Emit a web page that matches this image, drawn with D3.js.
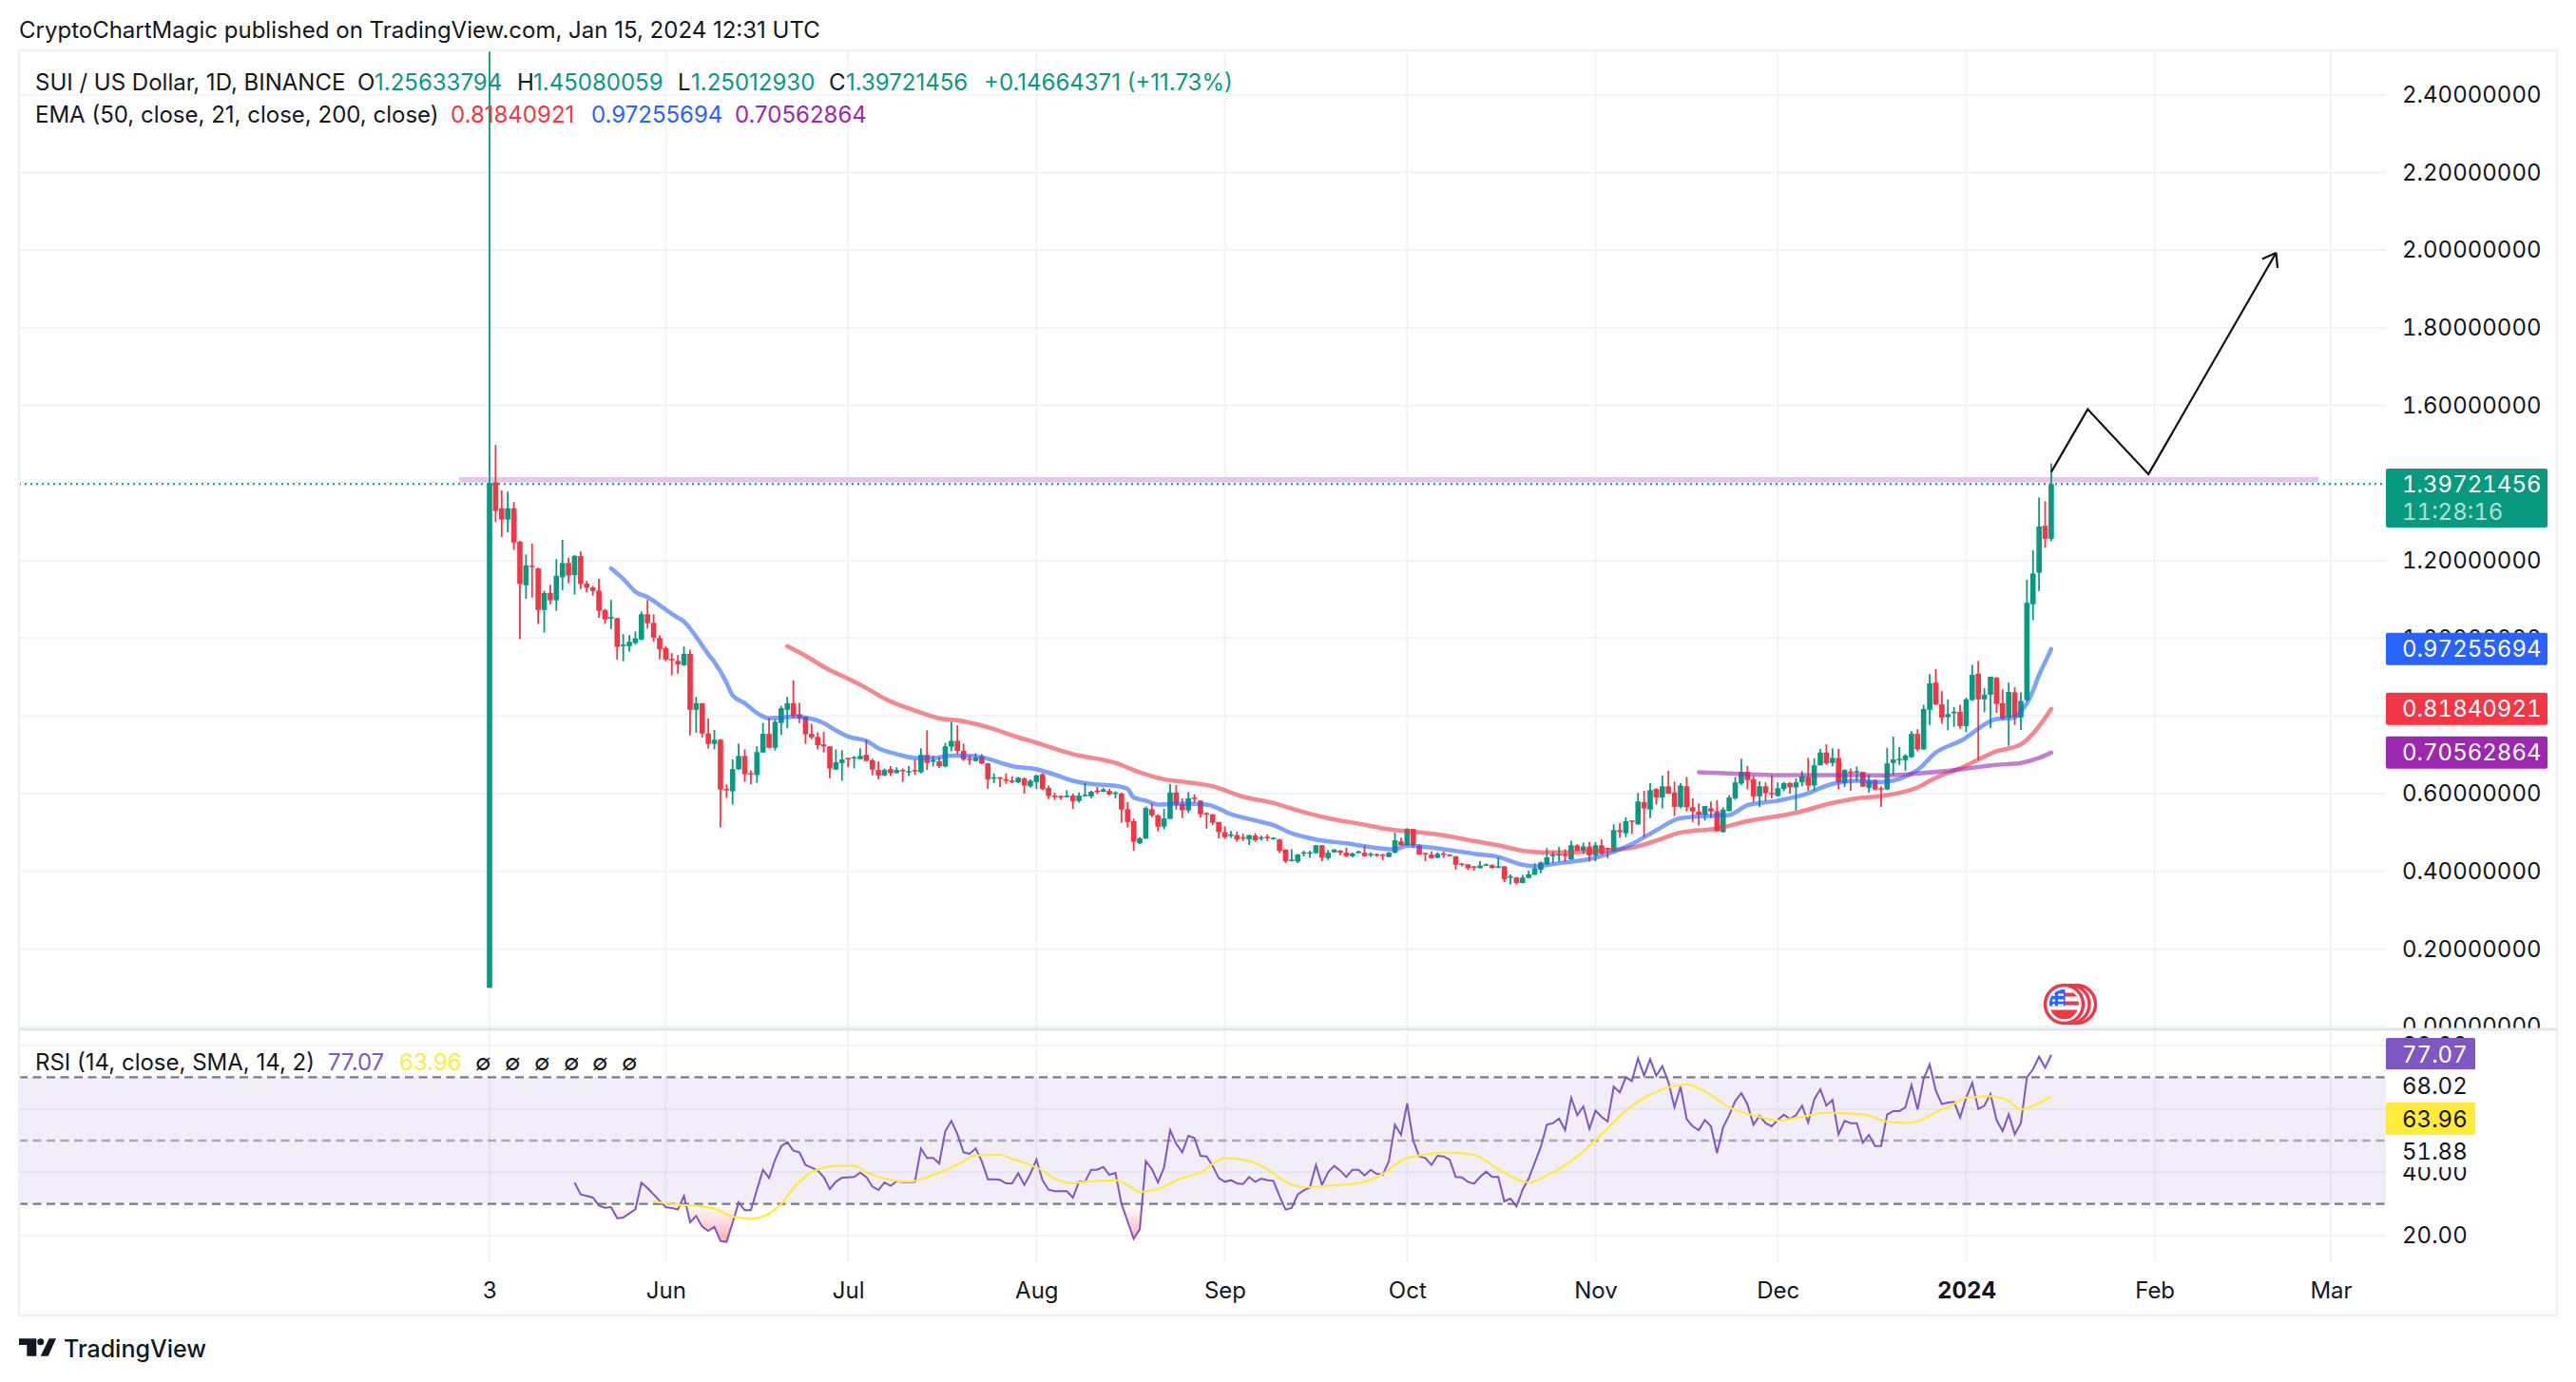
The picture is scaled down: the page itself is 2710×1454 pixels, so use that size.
<!DOCTYPE html>
<html>
<head>
<meta charset="utf-8">
<title>SUI / US Dollar</title>
<script src="https://cdn.jsdelivr.net/npm/d3@7/dist/d3.min.js"></script>
<style>
html, body { margin: 0; padding: 0; background: #fff; }
svg { display: block; font-family: Inter, "Noto Sans", sans-serif; }
.axis text { fill: #131722; font-size: 24px; font-family: Inter, "Noto Sans", sans-serif; font-variant-numeric: tabular-nums; }
.tag { font-variant-numeric: tabular-nums; }
</style>
</head>
<body>
<svg id="chart" width="2710" height="1454"></svg>
<script>
'use strict'
// daily candles, first one is 3 May 2023
const firstDay = new Date(Date.UTC(2023, 4, 3));

const opens = [0.10,
1.402,1.335,1.306,1.335,1.249,1.137,1.187,1.180,1.073,
1.117,1.098,1.157,1.194,1.163,1.212,1.141,1.131,1.123,1.073,
1.051,1.052,.980,.980,.988,.997,1.062,1.040,1.001,.975,
.947,.942,.931,.960,.816,.833,.755,.728,.739,.612,
.606,.663,.697,.653,.648,.706,.754,.718,.782,.816,
.833,.805,.798,.754,.746,.727,.722,.662,.679,.692,
.691,.689,.700,.686,.661,.647,.663,.653,.661,.656,
.661,.655,.700,.683,.683,.670,.721,.736,.710,.690,
.684,.696,.678,.639,.642,.637,.634,.629,.639,.619,
.630,.650,.615,.595,.594,.591,.595,.581,.594,.593,
.608,.605,.607,.600,.600,.560,.529,.472,.484,.560,
.544,.515,.535,.603,.573,.557,.590,.582,.550,.547,
.527,.501,.492,.493,.488,.482,.492,.484,.489,.483,
.482,.456,.427,.425,.446,.447,.447,.467,.434,.449,
.453,.448,.439,.447,.448,.443,.444,.443,.437,.448,
.477,.467,.509,.467,.447,.443,.435,.446,.443,.439,
.420,.418,.413,.408,.416,.416,.411,.413,.385,.384,
.370,.383,.391,.404,.418,.439,.441,.444,.431,.467,
.453,.464,.441,.467,.460,.453,.506,.498,.531,.521,
.578,.559,.612,.590,.619,.603,.566,.619,.565,.554,
.546,.562,.555,.501,.555,.588,.626,.656,.637,.593,
.619,.602,.594,.612,.627,.616,.629,.643,.621,.673,
.706,.679,.692,.627,.657,.655,.656,.615,.634,.614,
.611,.679,.688,.686,.694,.754,.714,.816,.886,.830,
.797,.807,.811,.774,.841,.909,.843,.855,.899,.833,
.796,.861,.796,.841,1.088,1.169,1.290,1.25633794];

const highs = [2.60,
1.498,1.381,1.378,1.351,1.251,1.216,1.244,1.182,1.123,
1.138,1.204,1.254,1.208,1.215,1.224,1.148,1.135,1.153,1.076,
1.099,1.053,1.011,1.008,1.018,1.069,1.099,1.062,1.008,.980,
.962,.957,.979,.971,.849,.833,.794,.764,.741,.624,
.688,.729,.714,.660,.722,.782,.795,.792,.826,.849,
.892,.834,.798,.780,.758,.759,.722,.714,.712,.692,
.697,.717,.739,.690,.683,.665,.671,.668,.665,.671,
.688,.717,.763,.698,.694,.731,.785,.776,.729,.699,
.704,.702,.679,.652,.643,.652,.645,.643,.642,.637,
.649,.653,.621,.603,.595,.609,.600,.603,.627,.608,
.617,.615,.612,.606,.603,.578,.536,.488,.567,.575,
.547,.561,.625,.622,.588,.604,.598,.583,.552,.547,
.527,.516,.504,.502,.497,.494,.498,.492,.495,.488,
.484,.456,.457,.445,.453,.453,.467,.467,.455,.457,
.455,.461,.448,.453,.466,.449,.446,.445,.450,.500,
.487,.511,.509,.469,.448,.452,.449,.451,.444,.439,
.421,.418,.413,.426,.420,.418,.436,.413,.392,.386,
.391,.402,.421,.425,.460,.451,.463,.457,.479,.470,
.474,.476,.475,.482,.461,.521,.524,.539,.531,.602,
.607,.627,.614,.647,.659,.631,.627,.643,.588,.575,
.568,.580,.583,.565,.596,.643,.690,.671,.645,.632,
.629,.648,.629,.630,.630,.639,.658,.692,.691,.715,
.727,.717,.715,.663,.665,.670,.656,.649,.637,.619,
.718,.747,.720,.702,.761,.766,.829,.908,.921,.864,
.843,.823,.829,.847,.932,.942,.872,.901,.900,.869,
.886,.874,.861,1.151,1.227,1.363,1.353,1.45080059];

const lows = [0.10,
1.299,1.261,1.273,1.228,.998,1.102,1.105,1.037,1.015,
1.088,1.071,1.124,1.142,1.113,1.127,1.118,1.110,1.053,1.037,
1.024,.945,.941,.966,.984,.995,1.025,.991,.946,.941,
.905,.909,.929,.750,.757,.745,.716,.714,.513,.589,
.572,.661,.630,.624,.628,.706,.717,.711,.751,.769,
.794,.782,.728,.740,.714,.706,.640,.661,.633,.668,
.665,.689,.684,.647,.637,.645,.645,.652,.630,.645,
.648,.652,.661,.670,.666,.668,.709,.702,.684,.674,
.683,.676,.612,.627,.617,.625,.627,.627,.600,.615,
.612,.610,.586,.584,.584,.591,.561,.577,.592,.588,
.599,.604,.596,.588,.525,.513,.453,.470,.484,.539,
.503,.508,.535,.559,.537,.550,.577,.539,.510,.519,
.485,.484,.486,.476,.478,.468,.476,.479,.478,.482,
.447,.421,.425,.421,.438,.435,.446,.426,.429,.448,
.441,.437,.436,.446,.438,.437,.437,.429,.436,.446,
.466,.466,.461,.443,.426,.433,.434,.435,.438,.404,
.413,.404,.402,.407,.415,.407,.408,.372,.366,.366,
.369,.382,.391,.395,.417,.421,.425,.425,.429,.453,
.445,.425,.426,.443,.434,.449,.486,.488,.496,.520,
.488,.537,.572,.562,.600,.542,.562,.555,.527,.518,
.531,.537,.503,.500,.554,.584,.622,.611,.578,.566,
.581,.588,.592,.606,.600,.557,.619,.608,.608,.673,
.674,.670,.611,.617,.608,.632,.617,.603,.609,.566,
.609,.648,.674,.659,.692,.709,.713,.777,.828,.780,
.763,.772,.767,.758,.839,.686,.810,.769,.808,.790,
.723,.777,.764,.837,1.047,1.122,1.233,1.25012930];

const closes = [1.40,
1.328,1.306,1.335,1.247,1.140,1.188,1.184,1.073,1.117,
1.098,1.161,1.194,1.162,1.212,1.140,1.130,1.122,1.071,1.049,
1.055,.978,.984,.991,1.000,1.062,1.039,1.002,.972,.945,
.944,.933,.960,.816,.833,.755,.728,.739,.611,.609,
.663,.697,.650,.650,.707,.754,.718,.785,.820,.833,
.800,.795,.753,.745,.725,.722,.665,.681,.688,.690,
.694,.697,.684,.662,.647,.661,.653,.661,.658,.658,
.658,.700,.679,.686,.671,.722,.736,.710,.688,.688,
.692,.678,.637,.642,.639,.634,.630,.641,.621,.633,
.647,.612,.594,.591,.590,.595,.581,.595,.597,.605,
.604,.611,.598,.603,.559,.527,.476,.485,.563,.544,
.515,.536,.603,.572,.557,.588,.586,.547,.548,.525,
.501,.488,.495,.482,.485,.493,.480,.488,.487,.486,
.453,.426,.430,.443,.449,.449,.467,.435,.448,.456,
.448,.439,.446,.451,.439,.445,.442,.440,.448,.480,
.467,.509,.467,.443,.444,.434,.445,.443,.442,.417,
.417,.408,.411,.415,.418,.409,.413,.380,.387,.370,
.384,.392,.407,.423,.436,.443,.444,.439,.467,.453,
.464,.441,.467,.445,.457,.506,.501,.529,.528,.580,
.562,.609,.590,.619,.600,.566,.621,.565,.554,.546,
.568,.554,.503,.559,.590,.629,.656,.635,.593,.619,
.601,.599,.614,.627,.616,.629,.645,.621,.673,.706,
.678,.692,.629,.661,.656,.658,.618,.633,.611,.612,
.678,.688,.690,.698,.754,.714,.818,.884,.830,.796,
.805,.811,.774,.843,.906,.843,.855,.901,.831,.794,
.862,.798,.839,1.0915,1.167,1.288,1.25633794,1.39721456];

const ema21Days = [20,22,24,26,29,31,32,34,36,37,39,40,42,44,46,48,50,52,55,57,59,62,64,67,70,73,76,78,81,84,86,90,93,96,99,103,105,106,108,110,114,118,122,126,129,132,136,141,146,149,151,157,162,166,170,172,176,182,184,188,192,196,201,204,207,212,216,221,225,229,235,238,242,248,251,252,253,254,255,256,257];
const ema21Values = [1.180,1.153,1.120,1.106,1.074,1.053,1.043,1.004,.959,.939,.886,.853,.833,.808,.794,.796,.798,.796,.782,.763,.747,.736,.717,.702,.692,.692,.698,.698,.694,.680,.671,.663,.649,.633,.625,.620,.612,.590,.582,.572,.574,.572,.547,.531,.519,.498,.482,.472,.460,.457,.466,.457,.445,.437,.417,.413,.421,.435,.445,.470,.506,.537,.543,.545,.570,.582,.596,.625,.633,.630,.661,.706,.735,.792,.796,.812,.833,.865,.906,.939,.97255694];

const ema50Days = [49,52,56,59,62,65,70,74,77,82,87,90,96,103,107,111,115,119,124,129,133,138,144,148,152,158,162,166,170,173,177,182,188,192,196,202,207,215,221,225,229,235,238,242,248,252,254,257];
const ema50Values = [.980,.955,.918,.896,.872,.845,.814,.794,.789,.771,.745,.731,.702,.679,.655,.637,.629,.619,.592,.576,.557,.537,.520,.508,.502,.490,.478,.467,.453,.449,.449,.452,.461,.479,.500,.510,.529,.551,.576,.588,.594,.616,.641,.665,.709,.727,.755,.81840921];

const ema200Days = [199,206,212,221,229,235,240,248,252,255,257];
const ema200Values = [.655,.651,.648,.648,.647,.652,.659,.674,.679,.692,.70562864];

// RSI(14), one value per bar from day 14 on
const rsiFirstDay = 14;
const rsiValues = [36.7,33,32.5,32,29.5,28.8,29,25.5,25.7,27,28.3,36.7,35,33,31,29,28.7,28.3,32.5,24.2,26.2,22.8,21.5,22.8,18.3,18,24,30.5,28,28,34.5,40.7,38.2,44,48.2,49.5,46.8,46.3,42.3,41.5,40.5,38.5,34.7,37,38.3,38.4,38.5,39.9,38.5,35.5,34.4,36.8,35.7,37.2,36.9,36.8,37,47.5,44.5,44.5,42.8,53,56.2,
52,46.3,45.8,47.5,43.5,37.8,37.8,37.6,36.5,36.5,39.7,36,39.5,44,37.5,34.5,34,34,34,32,37,37,40.8,40.8,41.7,39.2,39.8,30,24.5,19,22,43.5,41,36.8,41.5,53.3,49,46.3,51.5,50.8,45.2,45,42,38.2,37,37.5,36.5,36.3,38.5,37,38,37.5,37.3,32.5,28.2,28.7,33,34.3,35.2,42.3,36,40,42,40.5,38.5,40.8,40.8,39,40.8,39.5,39.2,43.5,55,51.8,61.7,50,45,44.5,42.3,45.2,45,44,38.5,38.4,37,36.4,38.5,40.2,38.5,38.5,30.8,31.7,29.2,34.5,38,43,48,55,55.5,57,53.3,63.5,58,60.8,53.7,59.5,57.5,56,67,65.2,70,68.8,76,70.5,75.7,70.5,73.5,68.5,60.5,67,56.8,54.5,53.3,56.5,54.5,46,54.2,58,62.5,65,61.5,55,57.8,55.5,54.5,56.5,58.2,56.8,58,61,
55.7,63,66.2,61,62.8,52,56.2,55.5,55.5,49.3,51.8,48.3,48.3,58.2,59.3,59.3,60.5,67.5,59.8,69.5,74,65.8,61.5,62,62.2,57.3,63.5,68.2,60,61,64.7,56.5,53,58.3,52,55.5,70,72.5,76.5,73,77.07];

const rsiMaDays = [27,31,34,37,40,43,46,48,50,53,57,60,62,65,69,72,76,78,80,84,86,88,91,93,96,98,103,105,107,111,113,117,121,125,128,131,134,138,144,147,151,158,162,166,171,174,179,183,187,191,197,200,204,209,212,216,220,226,230,233,235,238,240,243,247,250,252,254,257];
const rsiMaValues = [30.8,29.7,29.4,28.5,26,25.4,27,30,35,40,42,42,40,38,37,38.5,41.5,43.5,45.3,45.5,44.2,43,40.5,38,36.6,37,37.5,36,33.8,35.5,37.5,40,44.5,43.5,41,37,35.3,35.7,37,39.5,44.5,46.2,45.5,41,36.8,39,45,52,59.5,64.5,67.7,65.5,60.5,57.5,56.3,57.5,58.8,58.3,56,55.6,56,59,60.5,63.5,64,62.5,59.8,61,63.96];

// ticks, 1.4 and 60 have grid lines but their labels are hidden behind the value tags
const priceTicks = [0,.2,.4,.6,.8,1,1.2,1.4,1.6,1.8,2,2.2,2.4];
const priceLabelTicks = [0,.2,.4,.6,.8,1,1.2,1.6,1.8,2,2.2,2.4];
const rsiTicks = [20,40,60,80];
const rsiLabelTicks = [20,40,80];
const timeTickDates = ["2023-05-03","2023-06-01","2023-07-01","2023-08-01","2023-09-01","2023-10-01","2023-11-01","2023-12-01","2024-01-01","2024-02-01","2024-03-01"];
const timeTickLabels = ["3","Jun","Jul","Aug","Sep","Oct","Nov","Dec","2024","Feb","Mar"];

// the drawing on top: resistance band and projected path
const bandDays = [-5, 301];
const bandPrices = [1.4015, 1.4154];
const pathDays = [257, 263, 273, 294];
const pathPrices = [1.4284, 1.590, 1.4228, 1.993];

const lastPrice = 1.39721456, lastEma21 = 0.97255694, lastEma50 = 0.81840921, lastEma200 = 0.70562864;

const colGreen = "#089981", colRed = "#f23645", colBlue = "#2962ff", colPurple = "#9c27b0";
const colRsi = "#7e57c2", colMa = "#ffeb3b", colText = "#131722", colGrid = "#f2f3f5";

// layout
const frameLeft = 20, frameRight = 2690, frameTop = 53, paneRight = 2510, mainBottom = 1083, rsiBottom = 1328, frameBottom = 1384;
const barWidth = 5.6, fontSize = 24;

const dayDate = d => d3.utcDay.offset(firstDay, d);
const x = d3.scaleUtc()
    .domain([firstDay, new Date(Date.UTC(2024, 2, 1))])
    .range([515, 2452]);
const y = d3.scaleLinear().domain([0, 2.4]).range([1080.1, 99.7]);
const yRsi = d3.scaleLinear().domain([20, 80]).range([1300, 1100]);

const svg = d3.select("#chart");
const defs = svg.append("defs");
defs.append("clipPath").attr("id", "mainClip").append("rect")
    .attr("x", frameLeft).attr("y", frameTop).attr("width", paneRight - frameLeft).attr("height", mainBottom - frameTop);
defs.append("clipPath").attr("id", "below30").append("rect")
    .attr("x", frameLeft).attr("y", yRsi(30)).attr("width", paneRight - frameLeft).attr("height", rsiBottom - yRsi(30));
defs.append("clipPath").attr("id", "above70").append("rect")
    .attr("x", frameLeft).attr("y", mainBottom).attr("width", paneRight - frameLeft).attr("height", yRsi(70) - mainBottom);
let gradLow = defs.append("linearGradient").attr("id", "gradLow")
    .attr("gradientUnits", "userSpaceOnUse").attr("x1", 0).attr("x2", 0).attr("y1", yRsi(30)).attr("y2", yRsi(18));
gradLow.append("stop").attr("offset", 0).attr("stop-color", colRed).attr("stop-opacity", 0);
gradLow.append("stop").attr("offset", 1).attr("stop-color", colRed).attr("stop-opacity", .4);
let gradHigh = defs.append("linearGradient").attr("id", "gradHigh")
    .attr("gradientUnits", "userSpaceOnUse").attr("x1", 0).attr("x2", 0).attr("y1", yRsi(70)).attr("y2", yRsi(80));
gradHigh.append("stop").attr("offset", 0).attr("stop-color", colGreen).attr("stop-opacity", 0);
gradHigh.append("stop").attr("offset", 1).attr("stop-color", colGreen).attr("stop-opacity", .2);

// header above the frame
svg.append("text").attr("x", 20).attr("y", 40).attr("font-size", fontSize).attr("fill", colText)
    .text("CryptoChartMagic published on TradingView.com, Jan 15, 2024 12:31 UTC");

// grid lines
let grid = svg.append("g");
grid.selectAll(".vgrid").data(timeTickDates).enter().append("line")
    .attr("x1", d => x(new Date(d))).attr("x2", d => x(new Date(d)))
    .attr("y1", frameTop).attr("y2", rsiBottom)
    .attr("stroke", colGrid).attr("stroke-width", 2);
grid.selectAll(".hgrid").data(priceTicks).enter().append("line")
    .attr("x1", frameLeft).attr("x2", paneRight)
    .attr("y1", d => y(d)).attr("y2", d => y(d))
    .attr("stroke", colGrid).attr("stroke-width", 2);
grid.selectAll(".rgrid").data(rsiTicks).enter().append("line")
    .attr("x1", frameLeft).attr("x2", paneRight)
    .attr("y1", d => yRsi(d)).attr("y2", d => yRsi(d))
    .attr("stroke", colGrid).attr("stroke-width", 2);

// main pane
let main = svg.append("g").attr("clip-path", "url(#mainClip)");

main.append("rect")
    .attr("x", x(dayDate(bandDays[0])))
    .attr("y", y(bandPrices[1]))
    .attr("width", x(dayDate(bandDays[1])) - x(dayDate(bandDays[0])))
    .attr("height", y(bandPrices[0]) - y(bandPrices[1]))
    .attr("fill", "#e4c8ec");

main.append("line")
    .attr("x1", frameLeft).attr("x2", paneRight)
    .attr("y1", y(lastPrice)).attr("y2", y(lastPrice))
    .attr("stroke", colGreen).attr("stroke-width", 2).attr("stroke-dasharray", "2 4");

const candles = opens.map((o, i) => ({ day: i, o: o, h: highs[i], l: lows[i], c: closes[i] }));
const candleColor = d => d.c >= d.o ? colGreen : colRed;

let bars = main.append("g").selectAll("g").data(candles).enter().append("g");
bars.append("line")
    .attr("x1", d => x(dayDate(d.day))).attr("x2", d => x(dayDate(d.day)))
    .attr("y1", d => y(d.h)).attr("y2", d => y(d.l))
    .attr("stroke", candleColor).attr("stroke-width", 1.8);
bars.append("rect")
    .attr("x", d => x(dayDate(d.day)) - barWidth / 2)
    .attr("y", d => y(Math.max(d.o, d.c)))
    .attr("width", barWidth)
    .attr("height", d => Math.max(1.5, Math.abs(y(d.o) - y(d.c))))
    .attr("fill", candleColor);

function drawEma(days, values, color) {
    let line = d3.line()
        .x((d, i) => x(dayDate(days[i])))
        .y(d => y(d))
        .curve(d3.curveMonotoneX);
    main.append("path").datum(values)
        .attr("d", line)
        .attr("fill", "none")
        .attr("stroke", color)
        .attr("stroke-width", 4.5)
        .attr("stroke-linecap", "round")
        .attr("stroke-opacity", .6);
}
drawEma(ema50Days, ema50Values, colRed);
drawEma(ema21Days, ema21Values, colBlue);
drawEma(ema200Days, ema200Values, colPurple);

// projected path with open arrow head
let pathLine = d3.line()
    .x((d, i) => x(dayDate(pathDays[i])))
    .y(d => y(d));
main.append("path").datum(pathPrices)
    .attr("d", pathLine)
    .attr("fill", "none").attr("stroke", "#111").attr("stroke-width", 2.2).attr("stroke-linejoin", "miter");
const tipX = x(dayDate(pathDays[3])), tipY = y(pathPrices[3]);
const tipAngle = Math.atan2(y(pathPrices[2]) - tipY, x(dayDate(pathDays[2])) - tipX);
[-0.62, 0.62].forEach(a => {
    main.append("line")
        .attr("x1", tipX).attr("y1", tipY)
        .attr("x2", tipX + 16 * Math.cos(tipAngle + a))
        .attr("y2", tipY + 16 * Math.sin(tipAngle + a))
        .attr("stroke", "#111").attr("stroke-width", 2.2);
});

// the economic events badge at the bottom of the pane
let badge = svg.append("g").attr("transform", "translate(2171.5,1056.5)");
[13, 6.5, 0].forEach(dx => {
    badge.append("circle").attr("cx", dx).attr("cy", 0).attr("r", 20)
        .attr("fill", "#fff").attr("stroke", colRed).attr("stroke-width", 3.4);
});
defs.append("clipPath").attr("id", "flagClip").append("circle").attr("r", 15.5);
let flag = badge.append("g").attr("clip-path", "url(#flagClip)");
flag.append("rect").attr("x", -16).attr("y", -16).attr("width", 32).attr("height", 32).attr("fill", "#fff");
[-12, -3, 6, 12].forEach(sy => {
    flag.append("rect").attr("x", -16).attr("y", sy).attr("width", 32).attr("height", sy === 12 ? 5 : (sy === 6 ? 10 : 4)).attr("fill", colRed);
});
flag.append("rect").attr("x", -16).attr("y", -16).attr("width", 17).attr("height", 18).attr("fill", colBlue);
[-11, -5, 0].forEach(sy => {
    [-11, -5, -2].forEach(sx => {
        flag.append("circle").attr("cx", sx).attr("cy", sy + 1).attr("r", 1.5).attr("fill", "#fff");
    });
});

// right price axis, labels sit under the value tags
let priceAxis = svg.append("g").attr("class", "axis")
    .attr("transform", `translate(${paneRight + 17},0)`)
    .call(d3.axisRight(y).tickValues(priceLabelTicks).tickFormat(d3.format(".8f")).tickSize(0).tickPadding(0));
priceAxis.select(".domain").remove();

// RSI pane, it covers the foot of the lowest price label
svg.append("rect").attr("x", paneRight).attr("y", mainBottom).attr("width", frameRight - paneRight).attr("height", rsiBottom - mainBottom).attr("fill", "#fff");

let rsi = svg.append("g");
rsi.append("rect")
    .attr("x", frameLeft).attr("y", yRsi(70))
    .attr("width", paneRight - frameLeft).attr("height", yRsi(30) - yRsi(70))
    .attr("fill", colRsi).attr("fill-opacity", .1);
[[70, "#787b86", 1], [50, "#787b86", .6], [30, "#787b86", 1]].forEach(l => {
    rsi.append("line")
        .attr("x1", frameLeft).attr("x2", paneRight)
        .attr("y1", yRsi(l[0])).attr("y2", yRsi(l[0]))
        .attr("stroke", l[1]).attr("stroke-opacity", l[2]).attr("stroke-width", 2.4).attr("stroke-dasharray", "9 5.5");
});

const rsiDay = i => dayDate(rsiFirstDay + i);
rsi.append("path").datum(rsiValues)
    .attr("clip-path", "url(#below30)")
    .attr("d", d3.area().x((d, i) => x(rsiDay(i))).y0(yRsi(30)).y1(d => yRsi(d)))
    .attr("fill", "url(#gradLow)");
rsi.append("path").datum(rsiValues)
    .attr("clip-path", "url(#above70)")
    .attr("d", d3.area().x((d, i) => x(rsiDay(i))).y0(yRsi(70)).y1(d => yRsi(d)))
    .attr("fill", "url(#gradHigh)");
rsi.append("path").datum(rsiValues)
    .attr("d", d3.line().x((d, i) => x(rsiDay(i))).y(d => yRsi(d)))
    .attr("fill", "none").attr("stroke", colRsi).attr("stroke-width", 2);
rsi.append("path").datum(rsiMaValues)
    .attr("d", d3.line().x((d, i) => x(dayDate(rsiMaDays[i]))).y(d => yRsi(d)).curve(d3.curveMonotoneX))
    .attr("fill", "none").attr("stroke", colMa).attr("stroke-width", 2.2);

let rsiAxis = svg.append("g").attr("class", "axis")
    .attr("transform", `translate(${paneRight + 17},0)`)
    .call(d3.axisRight(yRsi).tickValues(rsiLabelTicks).tickFormat(d3.format(".2f")).tickSize(0).tickPadding(0));
rsiAxis.select(".domain").remove();

// value tags on the right axis
function valueTag(cy, h, w, fill, label, color) {
    let g = svg.append("g");
    g.append("rect").attr("x", paneRight).attr("y", cy - h / 2).attr("width", w).attr("height", h).attr("rx", 2).attr("fill", fill);
    g.append("text").attr("class", "tag").attr("x", paneRight + 17).attr("y", cy).attr("dy", "0.36em")
        .attr("font-size", fontSize).attr("fill", color).text(label);
    return g;
}
valueTag(y(lastEma21), 34, 170, colBlue, "0.97255694", "#fff");
valueTag(y(lastEma50), 34, 170, colRed, "0.81840921", "#fff");
valueTag(y(lastEma200), 34, 170, colPurple, "0.70562864", "#fff");
svg.append("rect").attr("x", paneRight).attr("y", 493).attr("width", 170).attr("height", 62).attr("rx", 2).attr("fill", colGreen);
svg.append("text").attr("class", "tag").attr("x", paneRight + 17).attr("y", y(lastPrice)).attr("dy", "0.36em")
    .attr("font-size", fontSize).attr("fill", "#fff").text("1.39721456");
svg.append("text").attr("class", "tag").attr("x", paneRight + 17).attr("y", 538).attr("dy", "0.36em")
    .attr("font-size", fontSize).attr("fill", "#fff").attr("fill-opacity", .7).text("11:28:16");

valueTag(1109, 34, 94, colRsi, "77.07", "#fff");
valueTag(1142, 34, 94, "#fff", "68.02", colText);
valueTag(1177, 34, 94, colMa, "63.96", colText);
valueTag(1211, 34, 94, "#fff", "51.88", colText);

// time axis
let timeAxis = svg.append("g").attr("class", "axis")
    .attr("transform", `translate(0,${rsiBottom})`)
    .call(d3.axisBottom(x)
        .tickValues(timeTickDates.map(d => new Date(d)))
        .tickFormat((d, i) => timeTickLabels[i])
        .tickSize(0).tickPadding(21));
timeAxis.select(".domain").remove();
timeAxis.selectAll(".tick text")
    .style("font-weight", (d, i) => timeTickLabels[i] === "2024" ? 700 : 400);

// frame and pane separator
let frame = svg.append("g").attr("fill", "none").attr("stroke", "#f0f1f5").attr("stroke-width", 2.5);
frame.append("rect").attr("x", frameLeft).attr("y", frameTop).attr("width", frameRight - frameLeft).attr("height", frameBottom - frameTop);
svg.append("line").attr("x1", frameLeft).attr("x2", frameRight).attr("y1", mainBottom).attr("y2", mainBottom)
    .attr("stroke", "#e3e5ec").attr("stroke-width", 3);

// legends
function legendText(px, py, label, color) {
    svg.append("text").attr("x", px).attr("y", py).attr("dy", "0.36em")
        .attr("font-size", fontSize).attr("fill", color).text(label);
}
legendText(37, 86, "SUI / US Dollar, 1D, BINANCE", colText);
legendText(376, 86, "O", colText);
legendText(394, 86, "1.25633794", colGreen);
legendText(544, 86, "H", colText);
legendText(561, 86, "1.45080059", colGreen);
legendText(713, 86, "L", colText);
legendText(727, 86, "1.25012930", colGreen);
legendText(872, 86, "C", colText);
legendText(890, 86, "1.39721456", colGreen);
legendText(1035, 86, "+0.14664371 (+11.73%)", colGreen);
legendText(37, 120, "EMA (50, close, 21, close, 200, close)", colText);
legendText(474, 120, "0.81840921", colRed);
legendText(622, 120, "0.97255694", colBlue);
legendText(773, 120, "0.70562864", colPurple);
legendText(37, 1117, "RSI (14, close, SMA, 14, 2)", colText);
legendText(345, 1117, "77.07", colRsi);
legendText(420, 1117, "63.96", colMa);
[500, 531, 562, 593, 623, 654].forEach(px => legendText(px, 1117, "\u2205", colText));

// TradingView mark
let logo = svg.append("g").attr("fill", colText);
logo.append("path").attr("d", "M20 1408.3H38.3V1426.7H28.3V1415H20Z");
logo.append("circle").attr("cx", 42.7).attr("cy", 1411.7).attr("r", 3.5);
logo.append("path").attr("d", "M51.7 1408.3H59L50.7 1426.7H42.7Z");
svg.append("text").attr("x", 67).attr("y", 1428).attr("font-size", 25).attr("font-weight", 500).attr("fill", colText).text("TradingView");
</script>
</body>
</html>
